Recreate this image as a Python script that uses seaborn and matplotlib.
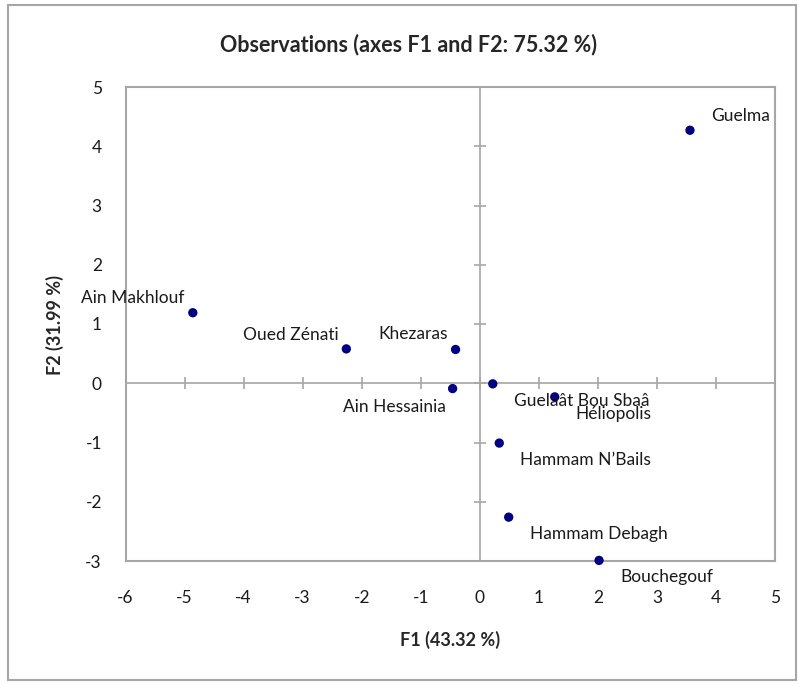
import matplotlib
matplotlib.use('Agg')
import matplotlib.pyplot as plt
import seaborn as sns
import pandas as pd
from matplotlib.patches import Rectangle

# Observation scores on the first two factors
sites = ['Guelma', 'Ain Makhlouf', 'Oued Zénati', 'Khezaras', 'Ain Hessainia',
         'Guelaât Bou Sbaâ', 'Héliopolis', 'Hammam N\u2019Bails', 'Hammam Debagh', 'Bouchegouf']
f1 = [3.56, -4.86, -2.26, -0.41, -0.46, 0.22, 1.27, 0.33, 0.49, 2.02]
f2 = [4.27, 1.19, 0.58, 0.57, -0.09, -0.01, -0.23, -1.01, -2.26, -2.99]
x_ticks = [-6, -5, -4, -3, -2, -1, 0, 1, 2, 3, 4, 5]
y_ticks = [-3, -2, -1, 0, 1, 2, 3, 4, 5]

df = pd.DataFrame({'site': sites, 'F1': f1, 'F2': f2})

sns.set_style("white")
plt.rcParams['font.family'] = ['Lato', 'DejaVu Sans']
plt.rcParams['axes.unicode_minus'] = False

grey = '#a6a6a6'
fig = plt.figure(figsize=(7.99, 6.84), dpi=100)
ax = fig.add_axes([125.5 / 799, 1 - 561 / 684, 649.5 / 799, 474 / 684])

sns.scatterplot(data=df, x='F1', y='F2', ax=ax, color='#000080', s=45,
                edgecolor='none', clip_on=False, zorder=5)

ax.set_xlim(-6, 5)
ax.set_ylim(-3, 5)
ax.set_xticks(x_ticks)
ax.set_yticks(y_ticks)
ax.tick_params(axis='x', length=0, pad=21, labelsize=12.5, labelcolor='#1a1a1a')
ax.tick_params(axis='y', length=0, pad=17, labelsize=12.5, labelcolor='#1a1a1a')
for sp in ax.spines.values():
    sp.set_color(grey)
    sp.set_linewidth(1.5)

# axes crossing at the origin, with tick marks
sx = ax.secondary_xaxis(3 / 8)
sx.set_xticks(x_ticks)
sx.tick_params(direction='inout', length=8, width=1.2, color=grey)
sx.set_xticklabels([])
for sp in sx.spines.values():
    sp.set_color(grey)
    sp.set_linewidth(1.2)
sy = ax.secondary_yaxis(6 / 11)
sy.set_yticks(y_ticks)
sy.tick_params(direction='inout', length=8, width=1.2, color=grey)
sy.set_yticklabels([])
for sp in sy.spines.values():
    sp.set_color(grey)
    sp.set_linewidth(1.2)

# point labels: (dx, dy, ha) in pixels
place = {
    'Guelma': (21, 14, 'left'),
    'Ain Makhlouf': (-8, 15, 'right'),
    'Oued Zénati': (-8, 14, 'right'),
    'Khezaras': (-8, 15, 'right'),
    'Ain Hessainia': (-7, -18, 'right'),
}
for _, row in df.iterrows():
    dx, dy, ha = place.get(row['site'], (21, -17, 'left'))
    ax.annotate(row['site'], (row['F1'], row['F2']), xytext=(dx * 0.72, dy * 0.72),
                textcoords='offset points', ha=ha, va='center', fontsize=12.5,
                color='#1a1a1a', annotation_clip=False, zorder=6)

ax.set_xlabel('F1 (43.32 %)', fontsize=13, fontweight='bold')
ax.set_ylabel('F2 (31.99 %)', fontsize=13, fontweight='bold')
ax.xaxis.set_label_coords((450 - 125.5) / 649.5, -(640 - 561) / 474)
ax.yaxis.set_label_coords(-(125.5 - 55) / 649.5, (561 - 325) / 474)
ax.xaxis.label.set_va('center')
ax.yaxis.label.set_va('center')
fig.text(409 / 799, 1 - 45 / 684, 'Observations (axes F1 and F2: 75.32 %)',
         ha='center', va='center', fontsize=15.5, fontweight='bold')

fig.patches.append(Rectangle((8 / 799, 4 / 684), 788 / 799, 675 / 684,
                             transform=fig.transFigure, fill=False,
                             edgecolor=grey, linewidth=1.5))

fig.savefig('out.png', dpi=100)
